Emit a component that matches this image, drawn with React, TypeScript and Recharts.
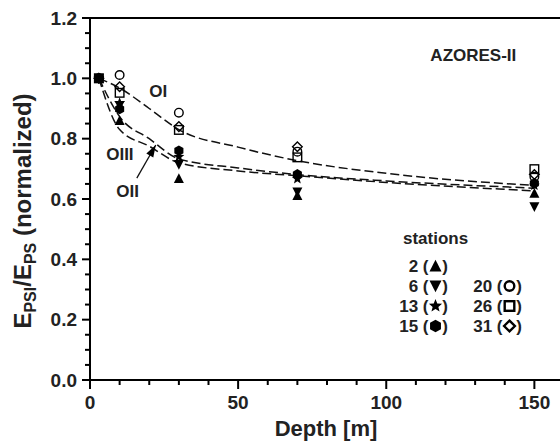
import React from 'react';
import { ComposedChart, XAxis, YAxis, Line, Scatter, ReferenceLine, Legend } from 'recharts';

const FONT = '"Liberation Sans", Arial, Helvetica, sans-serif';

// Depths of the station samples [m]
const depths = [3, 10, 30, 70, 150];
// Normalized E_PSI/E_PS per station
const st2 = [1.0, 0.86, 0.668, 0.612, 0.619];
const st6 = [1.0, 0.91, 0.714, 0.623, 0.574];
const st13 = [1.0, 0.918, 0.74, 0.667, 0.645];
const st15 = [1.0, 0.898, 0.76, 0.682, 0.652];
const st20 = [1.0, 1.011, 0.886, 0.757, 0.674];
const st26 = [1.0, 0.952, 0.829, 0.738, 0.699];
const st31 = [1.0, 0.972, 0.84, 0.773, 0.681];

// Fitted curves
const curveDepths = [3, 10, 20, 30, 50, 70, 100, 150];
const curveOI = [1.0, 0.968, 0.9, 0.83, 0.772, 0.727, 0.685, 0.645];
const curveOII = [1.0, 0.873, 0.8, 0.733, 0.703, 0.681, 0.66, 0.636];
const curveOIII = [1.0, 0.83, 0.775, 0.72, 0.693, 0.677, 0.655, 0.627];

// Arrow for OII label (data units)
const arrowDepths = [15.8, 22.2];
const arrowValues = [0.669, 0.779];

// Text annotations (data units)
const annoText = ['OI', 'OIII', 'OII', 'AZORES-II'];
const annoDepth = [23, 10.1, 12.7, 129.4];
const annoValue = [0.958, 0.75, 0.626, 1.078];

const xTicks = [0, 10, 20, 30, 40, 50, 60, 70, 80, 90, 100, 110, 120, 130, 140, 150];
const xLabelTicks = [0, 50, 100, 150];
const yTicks = [0, 0.05, 0.1, 0.15, 0.2, 0.25, 0.3, 0.35, 0.4, 0.45, 0.5, 0.55, 0.6, 0.65, 0.7, 0.75, 0.8, 0.85, 0.9, 0.95, 1.0, 1.05, 1.1, 1.15, 1.2];
const yLabelTicks = [0, 0.2, 0.4, 0.6, 0.8, 1.0, 1.2];

const legendLeft = [
  { n: '2', k: 'tri' },
  { n: '6', k: 'inv' },
  { n: '13', k: 'star' },
  { n: '15', k: 'hex' },
];
const legendRight = [
  { n: '20', k: 'circle' },
  { n: '26', k: 'square' },
  { n: '31', k: 'diamond' },
];

const pts = (xs: number[], ys: number[]) => xs.map((d, i) => ({ d, v: ys[i] }));

function Sym({ cx, cy, kind, size = 10, sw = 1.4 }: any) {
  const h = size / 2;
  if (cx == null || cy == null) return null;
  switch (kind) {
    case 'tri':
      return <polygon points={`${cx},${cy - h * 1.05} ${cx + h},${cy + h * 0.9} ${cx - h},${cy + h * 0.9}`} fill="#000" />;
    case 'inv':
      return <polygon points={`${cx},${cy + h * 1.05} ${cx + h},${cy - h * 0.9} ${cx - h},${cy - h * 0.9}`} fill="#000" />;
    case 'star': {
      const R = h * 1.15, r = h * 0.5;
      const p: string[] = [];
      for (let i = 0; i < 10; i++) {
        const a = -Math.PI / 2 + (i * Math.PI) / 5;
        const rr = i % 2 === 0 ? R : r;
        p.push(`${cx + rr * Math.cos(a)},${cy + rr * Math.sin(a)}`);
      }
      return <polygon points={p.join(' ')} fill="#000" />;
    }
    case 'hex': {
      const R = h * 1.05;
      const p: string[] = [];
      for (let i = 0; i < 6; i++) {
        const a = -Math.PI / 2 + (i * Math.PI) / 3;
        p.push(`${cx + R * Math.cos(a)},${cy + R * Math.sin(a)}`);
      }
      return <polygon points={p.join(' ')} fill="#000" />;
    }
    case 'circle':
      return <circle cx={cx} cy={cy} r={h - sw / 2} fill="none" stroke="#000" strokeWidth={sw} />;
    case 'square':
      return <rect x={cx - h + sw / 2} y={cy - h + sw / 2} width={size - sw} height={size - sw} fill="none" stroke="#000" strokeWidth={sw} />;
    case 'diamond': {
      const R = h * 1.1 - sw / 2;
      return <polygon points={`${cx},${cy - R} ${cx + R},${cy} ${cx},${cy + R} ${cx - R},${cy}`} fill="none" stroke="#000" strokeWidth={sw} strokeLinejoin="miter" />;
    }
    default:
      return null;
  }
}

const XTick = (props: any) => {
  const { x, y, payload } = props;
  const v = payload.value;
  const major = xLabelTicks.includes(v);
  return (
    <g>
      <line x1={x} x2={x} y1={y} y2={y + (major ? 9 : 5)} stroke="#000" strokeWidth={2} />
      {major && (
        <text x={x} y={y + 29} textAnchor="middle" fontSize={19} fontWeight="bold" fontFamily={FONT} fill="#222">
          {v}
        </text>
      )}
    </g>
  );
};

const YTick = (props: any) => {
  const { x, y, payload } = props;
  const v = payload.value;
  const major = yLabelTicks.some((t) => Math.abs(t - v) < 1e-6);
  return (
    <g>
      <line x1={x} x2={x - (major ? 8 : 5)} y1={y} y2={y} stroke="#000" strokeWidth={2} />
      {major && (
        <text x={x - 13} y={y + 6.5} textAnchor="end" fontSize={19} fontWeight="bold" fontFamily={FONT} fill="#222">
          {v.toFixed(1)}
        </text>
      )}
    </g>
  );
};

const YTitle = () => (
  <text transform="translate(31,211) rotate(-90)" textAnchor="middle" fontSize={24} fontWeight="bold" fontFamily={FONT} fill="#222">
    E<tspan fontSize={16} dy={5}>PSI</tspan>
    <tspan dy={-5}>/E</tspan>
    <tspan fontSize={16} dy={5}>PS</tspan>
    <tspan dy={-5}> (normalized)</tspan>
  </text>
);

const XTitle = () => (
  <text x={326} y={436} textAnchor="middle" fontSize={22} fontWeight="bold" fontFamily={FONT} fill="#222">
    Depth [m]
  </text>
);

const ArrowDot = (props: any) => {
  const { index, cx, cy, points } = props;
  if (index !== 1) return <g key={`a${index}`} />;
  let ang = -1.05;
  if (points && points.length > 1 && points[0].x != null) {
    ang = Math.atan2(points[1].y - points[0].y, points[1].x - points[0].x);
  }
  const L = 12, W = 4;
  const bx = cx - L * Math.cos(ang), by = cy - L * Math.sin(ang);
  const nx = -Math.sin(ang), ny = Math.cos(ang);
  return (
    <polygon key="ah" points={`${cx},${cy} ${bx + W * nx},${by + W * ny} ${bx - W * nx},${by - W * ny}`} fill="#000" stroke="none" />
  );
};

const AnnoShape = (props: any) => {
  const { cx, cy, payload } = props;
  return (
    <text x={cx} y={cy + 6} textAnchor="middle" fontSize={17} fontWeight="bold" fontFamily={FONT} fill="#222">
      {payload.t}
    </text>
  );
};

const LegendBox = () => {
  const row = (n: string, k: string, R: number, base: number) => {
    const symC = R - 12.5;
    return (
      <g key={n}>
        <text x={symC - 7} y={base} textAnchor="end" fontSize={17} fontWeight="bold" fontFamily={FONT} fill="#222">
          {`${n} (`}
        </text>
        <Sym cx={symC} cy={base - 6} kind={k} size={12} sw={2.4} />
        <text x={R} y={base} textAnchor="end" fontSize={17} fontWeight="bold" fontFamily={FONT} fill="#222">
          )
        </text>
      </g>
    );
  };
  return (
    <svg width={145} height={112} style={{ display: 'block' }}>
      <text x={8} y={16} fontSize={17} fontWeight="bold" fontFamily={FONT} fill="#222">
        stations
      </text>
      {legendLeft.map((e, i) => row(e.n, e.k, 53, 44 + i * 20))}
      {legendRight.map((e, i) => row(e.n, e.k, 127, 64 + i * 20))}
    </svg>
  );
};

const stations = [
  { name: '2', vals: st2, kind: 'tri' },
  { name: '6', vals: st6, kind: 'inv' },
  { name: '13', vals: st13, kind: 'star' },
  { name: '15', vals: st15, kind: 'hex' },
  { name: '20', vals: st20, kind: 'circle' },
  { name: '26', vals: st26, kind: 'square' },
  { name: '31', vals: st31, kind: 'diamond' },
];

const curves = [
  { name: 'OI', vals: curveOI },
  { name: 'OII', vals: curveOII },
  { name: 'OIII', vals: curveOIII },
];

export default function App() {
  const annoData = annoText.map((t, i) => ({ d: annoDepth[i], v: annoValue[i], t }));
  return (
    <div style={{ position: 'absolute', left: 0, top: 0, width: 560, height: 444, overflow: 'hidden', background: '#fff' }}>
      <ComposedChart width={600} height={444} margin={{ top: 18, right: 36, bottom: 0, left: 0 }}>
        <XAxis
          type="number"
          dataKey="d"
          domain={[0, 160]}
          ticks={xTicks}
          interval={0}
          height={64}
          tickSize={0}
          tickMargin={0}
          tickLine={false}
          tick={<XTick />}
          axisLine={{ stroke: '#000', strokeWidth: 2 }}
          label={XTitle}
        />
        <YAxis
          type="number"
          dataKey="v"
          domain={[0, 1.2]}
          ticks={yTicks}
          interval={0}
          width={90}
          tickSize={0}
          tickMargin={0}
          tickLine={false}
          tick={<YTick />}
          axisLine={{ stroke: '#000', strokeWidth: 2 }}
          label={YTitle}
        />
        <ReferenceLine y={1.2} stroke="#000" strokeWidth={2} />
        {curves.map((c) => (
          <Line
            key={c.name}
            data={pts(curveDepths, c.vals)}
            dataKey="v"
            type="monotone"
            stroke="#111"
            strokeWidth={1.5}
            strokeDasharray="9 4"
            dot={false}
            activeDot={false}
            isAnimationActive={false}
          />
        ))}
        <Line
          data={pts(arrowDepths, arrowValues)}
          dataKey="v"
          type="linear"
          stroke="#111"
          strokeWidth={1.3}
          dot={ArrowDot}
          activeDot={false}
          isAnimationActive={false}
        />
        {stations.map((s) => (
          <Scatter
            key={s.name}
            data={pts(depths, s.vals)}
            dataKey="v"
            isAnimationActive={false}
            shape={(p: any) => <Sym cx={p.cx} cy={p.cy} kind={s.kind} />}
          />
        ))}
        <Scatter data={annoData} dataKey="v" isAnimationActive={false} shape={AnnoShape} />
        <Legend
          layout="horizontal"
          verticalAlign="middle"
          align="center"
          wrapperStyle={{ left: 395, top: 228, width: 145, height: 112 }}
          content={() => <LegendBox />}
        />
      </ComposedChart>
    </div>
  );
}
